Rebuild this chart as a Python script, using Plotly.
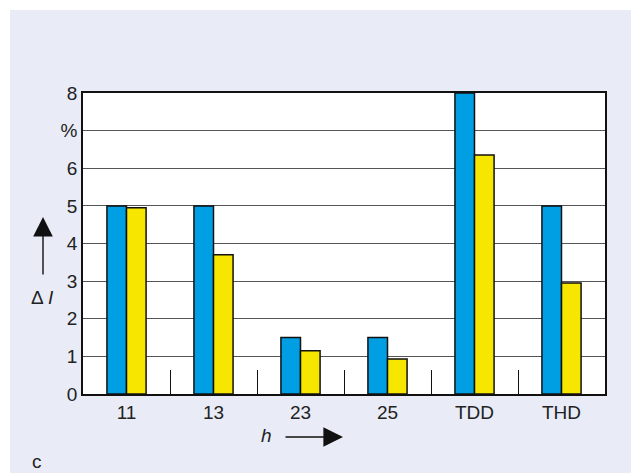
import plotly.graph_objects as go

categories = ["11", "13", "23", "25", "TDD", "THD"]
blue_values = [5.0, 5.0, 1.5, 1.5, 8.0, 5.0]
yellow_values = [4.95, 3.7, 1.15, 0.93, 6.35, 2.95]
y_tickvals = [0, 1, 2, 3, 4, 5, 6, 7, 8]
y_ticktext = ["0", "1", "2", "3", "4", "5", "6", "%", "8"]

OFF = 8  # page body margin
W, H = 639 - OFF, 473 - OFF
L, R, T, B = 83 - OFF, 34, 93 - OFF, 79
pw, ph = W - L - R, H - T - B

def px(x):
    return (x - OFF - L) / pw

def py(y):
    return (H - B - (y - OFF)) / ph

font = dict(family="Liberation Sans, Arial, sans-serif", size=19, color="#222222")

fig = go.Figure()
fig.add_trace(go.Bar(x=categories, y=blue_values, marker=dict(color="#009fe3", line=dict(color="#111111", width=1.5)), showlegend=False))
fig.add_trace(go.Bar(x=categories, y=yellow_values, marker=dict(color="#f7e600", line=dict(color="#111111", width=1.5)), showlegend=False))

def label(x, y, text):
    return dict(xref="paper", yref="paper", x=px(x), y=py(y), text=text, showarrow=False,
                xanchor="center", yanchor="middle", font=font)

fig.update_layout(
    width=W, height=H,
    margin=dict(l=L, r=R, t=T, b=B),
    paper_bgcolor="white",
    plot_bgcolor="white",
    barmode="group",
    bargap=0.55,
    bargroupgap=0,
    font=font,
    xaxis=dict(
        type="category",
        showgrid=False,
        showline=True, linecolor="#111111", linewidth=1.5, mirror=True,
        ticks="inside", tickson="boundaries", ticklen=24, tickwidth=1, tickcolor="#111111",
        tickfont=font,
    ),
    yaxis=dict(
        range=[0, 8],
        tickvals=y_tickvals, ticktext=y_ticktext,
        showgrid=True, gridcolor="#555555", gridwidth=1,
        showline=True, linecolor="#111111", linewidth=1.5, mirror=True,
        ticks="", tickfont=font, zeroline=False,
    ),
    shapes=[
        dict(type="rect", xref="paper", yref="paper", x0=px(10), x1=px(660), y0=py(490), y1=py(10),
             fillcolor="#e9ecf6", line=dict(width=0), layer="below"),
        dict(type="rect", xref="paper", yref="paper", x0=0, x1=1, y0=0, y1=1,
             fillcolor="white", line=dict(width=0), layer="below"),
    ],
    annotations=[
        dict(xref="paper", yref="paper", x=px(43), y=py(217), ax=0, ay=59, axref="pixel", ayref="pixel",
             text="", showarrow=True, arrowhead=2, arrowsize=2.8, arrowwidth=1.4, arrowcolor="#111111"),
        label(42, 297, "Δ <i>I</i>"),
        label(266, 435, "<i>h</i>"),
        dict(xref="paper", yref="paper", x=px(343), y=py(437), ax=-59, ay=0, axref="pixel", ayref="pixel",
             text="", showarrow=True, arrowhead=2, arrowsize=2.8, arrowwidth=1.4, arrowcolor="#111111"),
        label(37, 461, "c"),
    ],
)

fig.write_html("out.html")
